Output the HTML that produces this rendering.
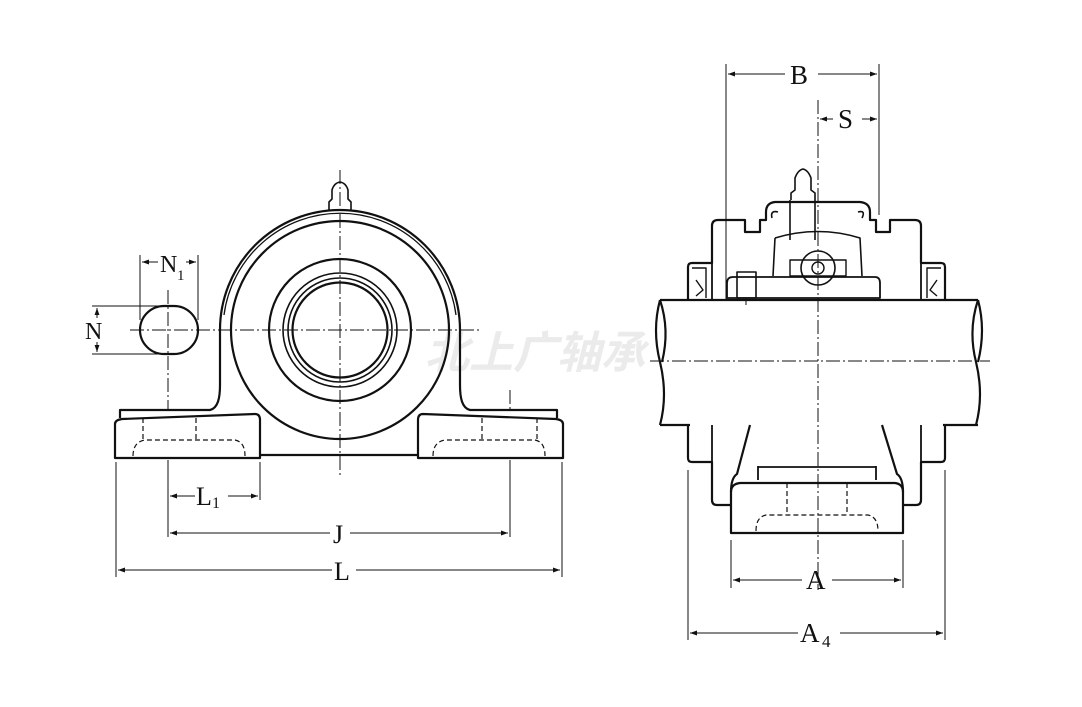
<!DOCTYPE html>
<html><head><meta charset="utf-8"><style>
html,body{margin:0;padding:0;background:#fff}
svg{display:block}
text{font-family:"Liberation Serif",serif;fill:#111}
</style></head><body>
<svg width="1082" height="707" viewBox="0 0 1082 707" xmlns="http://www.w3.org/2000/svg">
<defs>
<marker id="a" viewBox="0 0 10 10" refX="10" refY="5" markerWidth="10" markerHeight="7" orient="auto-start-reverse" markerUnits="userSpaceOnUse"><path d="M0,1.5 L10,5 L0,8.5z" fill="#111"/></marker>
</defs>
<text x="535" y="368" font-size="44" font-weight="bold" font-style="italic" text-anchor="middle" style="font-family:'Noto Sans CJK SC',sans-serif;fill:#ebebeb">北上广轴承</text>

<g fill="none" stroke="#111" stroke-width="2.2" stroke-linejoin="round">
<!-- LEFT VIEW -->
<path d="M120,418 L120,410 L210,410 C218,408 220,398 220,385 L220,330 A120,120 0 0 1 460,330 L460,385 C460,398 462,408 470,410 L557,410 L557,418"/>
<path d="M224,315 A117,117 0 0 1 456,315" stroke-width="1.3"/>
<circle cx="340" cy="330" r="109"/>
<path d="M115,458 L115,424 Q115,420 122,419 L255,414 Q260,414 260,420 L260,458 Z" fill="#fff"/>
<path d="M563,458 L563,424 Q563,420 556,419 L423,414 Q418,414 418,420 L418,458 Z" fill="#fff"/>
<path d="M260,455 L418,455"/>
<circle cx="340" cy="330" r="71"/>
<circle cx="340" cy="330" r="57" stroke-width="1.6"/>
<circle cx="340" cy="330" r="52" stroke-width="1.6"/>
<circle cx="340" cy="330" r="47.5"/>
<rect x="140" y="306" width="58" height="48" rx="24" ry="24"/>
<path d="M329,210 L329,202 L332,199 L332,190 Q334,183 340,182 Q346,183 348,190 L348,199 L351,202 L351,210" stroke-width="1.6"/>
</g>
<g fill="none" stroke="#111" stroke-width="1.2" stroke-dasharray="5,3">
<path d="M133,456 Q133,442 145,440 L235,440 Q245,442 245,456"/>
<path d="M433,456 Q433,442 445,440 L535,440 Q545,442 545,456"/>
<path d="M143,418 L143,440 M196,418 L196,440 M482,418 L482,440 M537,418 L537,440"/>
</g>
<g fill="none" stroke="#111" stroke-width="1" stroke-dasharray="14,3,2,3">
<path d="M340,170 L340,475"/>
<path d="M130,330 L480,330"/>
<path d="M168,290 L168,410"/>
<path d="M510,390 L510,410"/>
</g>
<g fill="none" stroke="#111" stroke-width="1">
<path d="M168,460 L168,537 M510,460 L510,537 M116,462 L116,577 M562,462 L562,577 M260,462 L260,500"/>
<path d="M140,255 L140,320 M198,255 L198,320"/>
<path d="M92,306 L168,306 M92,354 L168,354"/>
<path d="M170,496 L195,496" marker-start="url(#a)"/>
<path d="M228,496 L258,496" marker-end="url(#a)"/>
<path d="M170,533 L330,533" marker-start="url(#a)"/>
<path d="M350,533 L508,533" marker-end="url(#a)"/>
<path d="M118,570 L332,570" marker-start="url(#a)"/>
<path d="M356,570 L560,570" marker-end="url(#a)"/>
<path d="M142,262 L158,262" marker-start="url(#a)"/>
<path d="M186,262 L196,262" marker-end="url(#a)"/>
<path d="M97,308 L97,318" marker-start="url(#a)"/>
<path d="M97,342 L97,352" marker-end="url(#a)"/>
</g>
<text x="160" y="272" font-size="24">N</text><text x="177" y="280" font-size="15">1</text>
<text x="85" y="339" font-size="24">N</text>
<text x="196" y="505" font-size="26">L</text><text x="212" y="508" font-size="16">1</text>
<text x="333" y="543" font-size="26">J</text>
<text x="334" y="580" font-size="26">L</text>

<!-- RIGHT VIEW -->
<g fill="none" stroke="#111" stroke-width="2.2" stroke-linejoin="round">
<path d="M688,300 L688,267 Q688,263 692,263 L712,263 L712,226 Q712,220 718,220 L745,220 L745,232 L760,232 L760,220 L766,220 L766,212 Q766,203 775,202 L860,202 Q870,203 870,212 L870,220 L876,220 L876,232 L890,232 L890,220 L915,220 Q921,220 921,226 L921,263 L941,263 Q945,263 945,267 L945,300"/>
<path d="M712,263 L712,300 M921,263 L921,300 M712,425 L712,462 M921,425 L921,462" stroke-width="1.8"/>
<path d="M688,425 L688,458 Q688,462 692,462 L712,462 L712,500 Q712,505 717,505 L731,505"/>
<path d="M945,425 L945,458 Q945,462 941,462 L921,462 L921,500 Q921,505 916,505 L903,505"/>
<path d="M731,533 L731,492 Q731,484 740,483 L895,483 Q903,484 903,492 L903,533 Z"/>
<path d="M731,492 Q731,478 737,474 L750,425 M903,492 Q903,478 897,474 L882,425"/>
<path d="M758,480 L758,466 M876,480 L876,466 M758,467 L876,467" stroke-width="1.8"/>
<path d="M660,300 L978,300 M660,425 L690,425 M943,425 L978,425"/>
<path d="M660,300 Q652,330 660,362 Q668,395 660,425" />
<path d="M660,300 Q670,330 662,362"/>
<path d="M978,300 Q968,330 976,362 Q984,395 976,425"/>
<path d="M978,300 Q986,330 978,362"/>
<path d="M727,298 L727,283 Q727,277 733,277 L875,277 Q880,277 880,283 L880,298 Z" stroke-width="1.8"/>
<circle cx="818" cy="268" r="17" stroke-width="1.6"/>
<path d="M790,260 L846,260 L846,276 L790,276 Z" stroke-width="1.4"/>
<circle cx="818" cy="268" r="6" stroke-width="1.4"/>
<rect x="737" y="272" width="19" height="26" stroke-width="1.6"/>
<path d="M775,238 Q818,225 860,238 L862,276 M775,238 L773,276" stroke-width="1.6"/>
<path d="M790,200 L790,240 M815,200 L815,240" stroke-width="1.6"/>
<path d="M791,200 L791,193 L795,190 L795,178 Q798,170 803,169 Q808,170 811,178 L811,190 L815,193 L815,200" stroke-width="1.6"/>
<path d="M692,268 L706,268 L706,298 M941,268 L927,268 L927,298" stroke-width="1.4"/>
<path d="M696,280 L703,290 L696,296 M937,280 L930,290 L937,296" stroke-width="1.4"/>
<path d="M772,218 Q770,210 778,212 M862,218 Q866,210 858,212" stroke-width="1.6"/>
</g>
<g fill="none" stroke="#111" stroke-width="1.2" stroke-dasharray="5,3">
<path d="M756,531 Q756,517 766,515 L868,515 Q878,517 878,531"/>
<path d="M787,483 L787,512 M847,483 L847,512"/>
</g>
<g fill="none" stroke="#111" stroke-width="1" stroke-dasharray="14,3,2,3">
<path d="M818,100 L818,590"/>
<path d="M650,361 L990,361"/>
</g>
<g fill="none" stroke="#111" stroke-width="1">
<path d="M726,64 L726,300 M879,64 L879,215"/>
<path d="M731,540 L731,588 M903,540 L903,588 M688,470 L688,640 M945,470 L945,640"/>
<path d="M746,298 L746,305"/>
<path d="M728,74 L785,74" marker-start="url(#a)"/>
<path d="M818,74 L877,74" marker-end="url(#a)"/>
<path d="M820,119 L833,119" marker-start="url(#a)"/>
<path d="M862,119 L877,119" marker-end="url(#a)"/>
<path d="M733,580 L802,580" marker-start="url(#a)"/>
<path d="M832,580 L901,580" marker-end="url(#a)"/>
<path d="M690,633 L798,633" marker-start="url(#a)"/>
<path d="M840,633 L943,633" marker-end="url(#a)"/>
</g>
<text x="790" y="84" font-size="27">B</text>
<text x="838" y="128" font-size="27">S</text>
<text x="806" y="589" font-size="27">A</text>
<text x="800" y="642" font-size="27">A</text><text x="822" y="647" font-size="17">4</text>
</svg>
</body></html>
